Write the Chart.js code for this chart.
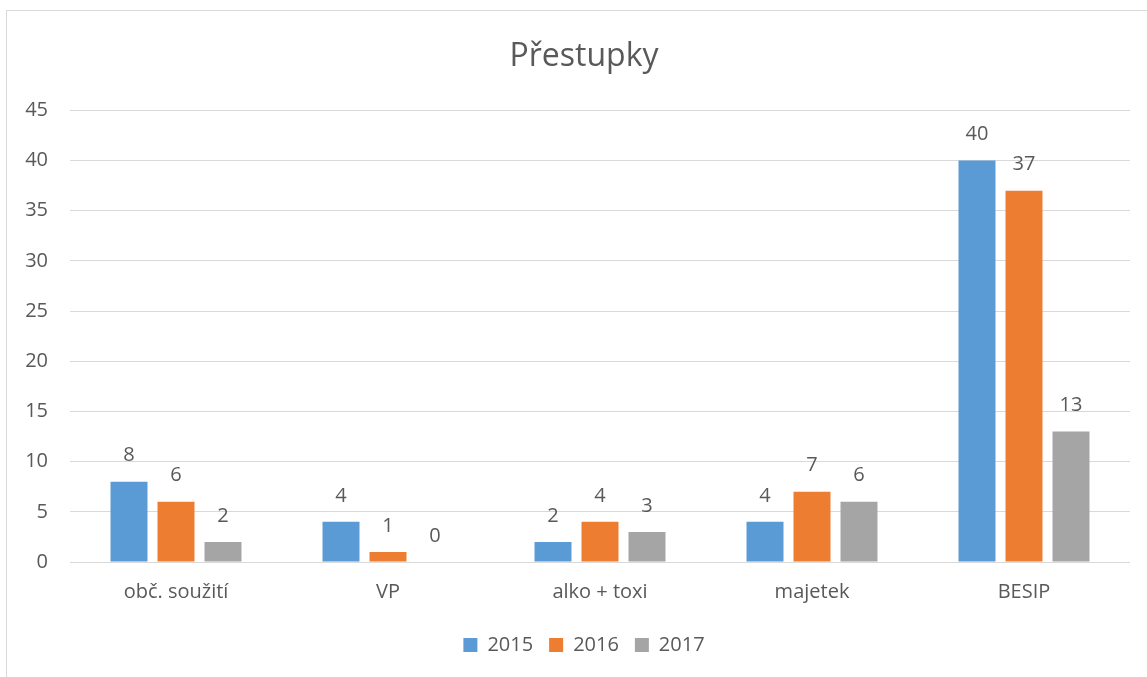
<!DOCTYPE html>
<html>
<head>
<meta charset="utf-8">
<script src="https://cdn.jsdelivr.net/npm/chart.js@4/dist/chart.umd.min.js"></script>
<style>
  html, body { margin: 0; padding: 0; background: #fff; overflow: hidden; }
  #wrap { position: relative; width: 1147px; height: 677px; overflow: hidden; }
  #frame { position: absolute; left: 6px; top: 10px; width: 1160px; height: 700px; border: 1px solid #d9d9d9; box-sizing: border-box; }
  canvas { position: absolute; left: 0; top: 0; }
</style>
</head>
<body>
<div id="wrap">
  <div id="frame"></div>
  <canvas id="c" width="1168" height="677"></canvas>
</div>
<script>
const categories = ["obč. soužití", "VP", "alko + toxi", "majetek", "BESIP"];
const seriesNames = ["2015", "2016", "2017"];
const values2015 = [8, 4, 2, 4, 40];
const values2016 = [6, 1, 4, 7, 37];
const values2017 = [2, 0, 3, 6, 13];
const seriesColors = ["#5B9BD5", "#ED7D31", "#A5A5A5"];
const chartTitle = "Přestupky";

const FONT = "'Open Sans', 'Noto Sans', sans-serif";
const TEXT = "#595959";

const labelPlugin = {
  id: "barLabels",
  afterDatasetsDraw(chart) {
    const ctx = chart.ctx;
    ctx.save();
    ctx.font = "20px " + FONT;
    ctx.fillStyle = TEXT;
    ctx.textAlign = "center";
    ctx.textBaseline = "middle";
    chart.data.datasets.forEach((ds, di) => {
      const meta = chart.getDatasetMeta(di);
      meta.data.forEach((bar, i) => {
        ctx.fillText(String(ds.data[i]), bar.x, bar.y - 26);
      });
    });
    ctx.restore();
  }
};

new Chart(document.getElementById("c"), {
  type: "bar",
  data: {
    labels: categories,
    datasets: [values2015, values2016, values2017].map((vals, k) => ({
      label: seriesNames[k],
      data: vals,
      backgroundColor: seriesColors[k],
      categoryPercentage: 0.665,
      barPercentage: 0.787,
      yAxisID: "y"
    }))
  },
  options: {
    responsive: false,
    animation: false,
    devicePixelRatio: 1,
    layout: { padding: { left: 0, right: 0, top: 0, bottom: 12 } },
    plugins: {
      title: {
        display: true,
        text: chartTitle,
        color: TEXT,
        font: { family: FONT, size: 32, weight: "normal" },
        padding: { top: 38, bottom: 34 }
      },
      legend: {
        position: "bottom",
        labels: {
          color: TEXT,
          boxWidth: 14,
          boxHeight: 14,
          padding: 16,
          font: { family: FONT, size: 20 }
        }
      },
      tooltip: { enabled: false }
    },
    scales: {
      x: {
        grid: { display: false },
        border: { display: false },
        ticks: { color: TEXT, font: { family: FONT, size: 20 }, padding: 10, maxRotation: 0 },
        afterFit(scale) { scale.height = 57; }
      },
      y: {
        position: "left",
        min: 0,
        max: 45,
        ticks: { stepSize: 5, color: TEXT, font: { family: FONT, size: 20 }, padding: 22 },
        grid: { color: "#d9d9d9", lineWidth: 1, drawTicks: false },
        border: { display: false },
        afterFit(scale) { scale.width = 70; }
      },
      spacer: {
        position: "right",
        display: true,
        min: 0,
        max: 45,
        ticks: { display: false },
        grid: { display: false, drawTicks: false },
        border: { display: false },
        afterFit(scale) { scale.width = 38; }
      }
    }
  },
  plugins: [labelPlugin]
});
</script>
</body>
</html>
